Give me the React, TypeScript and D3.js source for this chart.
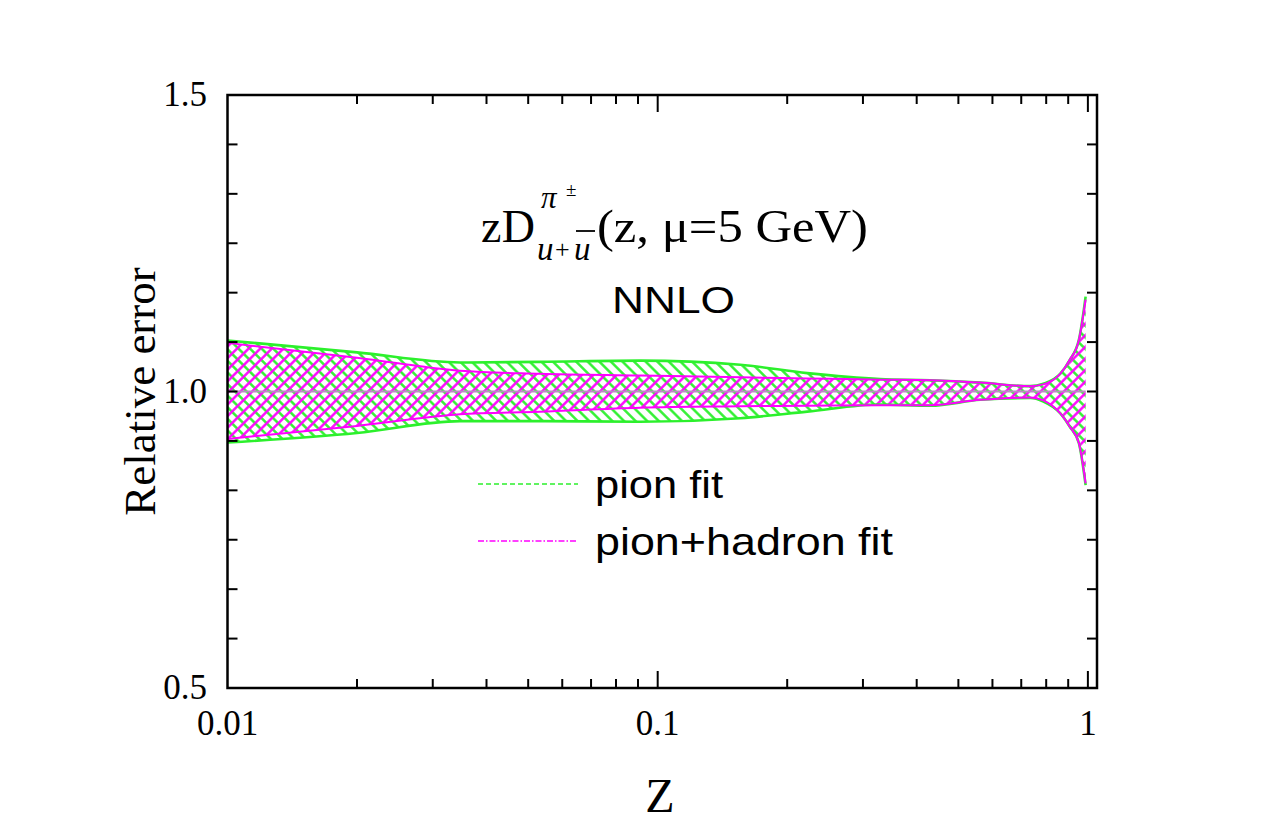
import React, { useEffect, useRef } from 'react';
import * as d3 from 'd3';

const zPoints = [0.01, 0.02, 0.0347, 0.0533, 0.091, 0.1556, 0.2226, 0.329, 0.43, 0.562, 0.735, 0.788, 0.863, 0.907, 0.953, 0.988];

// pion fit (green) relative error band
const pionUpper = [1.086, 1.066, 1.049, 1.05, 1.052, 1.045, 1.031, 1.021, 1.019, 1.015, 1.009, 1.013, 1.03, 1.053, 1.087, 1.16];
const pionLower = [0.914, 0.93, 0.95, 0.95, 0.949, 0.955, 0.966, 0.978, 0.976, 0.986, 0.989, 0.983, 0.963, 0.941, 0.913, 0.842];

// pion+hadron fit (magenta) relative error band
const hadronUpper = [1.082, 1.057, 1.035, 1.03, 1.027, 1.024, 1.022, 1.02, 1.019, 1.015, 1.009, 1.012, 1.03, 1.053, 1.087, 1.155];
const hadronLower = [0.92, 0.942, 0.9615, 0.966, 0.9727, 0.975, 0.976, 0.977, 0.977, 0.986, 0.99, 0.985, 0.963, 0.941, 0.913, 0.845];

const xMajorTicks = [0.01, 0.1, 1];
const xTickLabels = ['0.01', '0.1', '1'];
const yLabelTicks = [0.5, 1.0, 1.5];
const yTickLabels = ['0.5', '1.0', '1.5'];

const legendLabels = ['pion fit', 'pion+hadron fit'];

const GREEN = '#2cf02c';
const MAGENTA = '#ff00ff';
const SERIF = '"Liberation Serif", "Times New Roman", serif';
const SANS = '"Liberation Sans", Arial, sans-serif';

type Pt = { z: number; lo: number; hi: number };

export default function App() {
  const svgRef = useRef<SVGSVGElement>(null);

  useEffect(() => {
    if (!svgRef.current) return;
    const svg = d3.select(svgRef.current);
    svg.selectAll('*').remove();

    const x = d3.scaleLog().domain([0.01, 1.05]).range([227.5, 1097]);
    const y = d3.scaleLinear().domain([0.5, 1.5]).range([688, 95]);
    const [x0, x1] = x.range();
    const [yb, yt] = y.range();

    // hatch patterns
    const defs = svg.append('defs');
    const hatch = (id: string, color: string, angle: number) => {
      const p = defs
        .append('pattern')
        .attr('id', id)
        .attr('patternUnits', 'userSpaceOnUse')
        .attr('width', 8.2)
        .attr('height', 10)
        .attr('patternTransform', `rotate(${angle})`);
      p.append('line')
        .attr('x1', 4.1)
        .attr('x2', 4.1)
        .attr('y1', -1)
        .attr('y2', 11)
        .attr('stroke', color)
        .attr('stroke-width', 2.4);
    };
    hatch('hatchGreen', GREEN, -45);
    hatch('hatchMagenta', MAGENTA, 45);

    const pion: Pt[] = zPoints.map((z, i) => ({ z, lo: pionLower[i], hi: pionUpper[i] }));
    const hadron: Pt[] = zPoints.map((z, i) => ({ z, lo: hadronLower[i], hi: hadronUpper[i] }));

    const area = d3
      .area<Pt>()
      .x(d => x(d.z))
      .y0(d => y(d.lo))
      .y1(d => y(d.hi))
      .curve(d3.curveMonotoneX);
    const upLine = d3.line<Pt>().x(d => x(d.z)).y(d => y(d.hi)).curve(d3.curveMonotoneX);
    const loLine = d3.line<Pt>().x(d => x(d.z)).y(d => y(d.lo)).curve(d3.curveMonotoneX);

    const g = svg.append('g');
    g.append('path').datum(pion).attr('d', area).attr('fill', 'url(#hatchGreen)');
    g.append('path').datum(hadron).attr('d', area).attr('fill', 'url(#hatchMagenta)');

    // central value line (both fits at 1)
    g.append('line')
      .attr('x1', x(zPoints[0]))
      .attr('x2', x(zPoints[zPoints.length - 1]))
      .attr('y1', y(1))
      .attr('y2', y(1))
      .attr('stroke', '#b98cc2')
      .attr('stroke-width', 2);

    [upLine, loLine].forEach(l => {
      g.append('path').datum(pion).attr('d', l).attr('fill', 'none').attr('stroke', GREEN).attr('stroke-width', 2.6);
    });
    [upLine, loLine].forEach(l => {
      g.append('path').datum(hadron).attr('d', l).attr('fill', 'none').attr('stroke', MAGENTA).attr('stroke-width', 2);
    });

    // frame
    svg.append('rect')
      .attr('x', x0)
      .attr('y', yt)
      .attr('width', x1 - x0)
      .attr('height', yb - yt)
      .attr('fill', 'none')
      .attr('stroke', '#000')
      .attr('stroke-width', 2.5);

    // x ticks (log minor + major), bottom and top
    const xMinor: number[] = [];
    [0.01, 0.1].forEach(dec => d3.range(2, 10).forEach(k => xMinor.push(k * dec)));
    const ticks = svg.append('g').attr('stroke', '#000').attr('stroke-width', 2);
    const xt = (v: number, len: number) => {
      ticks.append('line').attr('x1', x(v)).attr('x2', x(v)).attr('y1', yb).attr('y2', yb - len);
      ticks.append('line').attr('x1', x(v)).attr('x2', x(v)).attr('y1', yt).attr('y2', yt + len);
    };
    xMinor.forEach(v => xt(v, 9));
    xMajorTicks.slice(1).forEach(v => xt(v, 17));

    // y ticks every 1/12 of the range
    d3.range(1, 12).map(i => 0.5 + i / 12).forEach(v => {
      ticks.append('line').attr('x1', x0).attr('x2', x0 + 10).attr('y1', y(v)).attr('y2', y(v));
      ticks.append('line').attr('x1', x1).attr('x2', x1 - 10).attr('y1', y(v)).attr('y2', y(v));
    });

    // tick labels
    const lab = svg.append('g').style('font-family', SERIF).style('font-size', '35px').attr('fill', '#000');
    xMajorTicks.forEach((v, i) => {
      lab.append('text').attr('x', x(v)).attr('y', 735).attr('text-anchor', 'middle').text(xTickLabels[i]);
    });
    yLabelTicks.forEach((v, i) => {
      lab.append('text').attr('x', 207).attr('y', y(v) + 11).attr('text-anchor', 'end').text(yTickLabels[i]);
    });

    // axis titles
    svg.append('text')
      .attr('transform', `translate(155,${(yt + yb) / 2}) rotate(-90)`)
      .attr('text-anchor', 'middle')
      .style('font-family', SERIF)
      .style('font-size', '45px')
      .text('Relative error');
    svg.append('text')
      .attr('x', 660)
      .attr('y', 812)
      .attr('text-anchor', 'middle')
      .style('font-family', SERIF)
      .style('font-size', '48px')
      .text('Z');

    // title: zD^{pi±}_{u+ubar}(z, mu=5 GeV)
    const t = svg.append('g').style('font-family', SERIF).attr('fill', '#000');
    t.append('text').attr('x', 481).attr('y', 242).style('font-size', '46px').attr('textLength', 54).text('zD');
    t.append('text').attr('x', 541).attr('y', 208).style('font-size', '31px').style('font-style', 'italic').text('π');
    t.append('text').attr('x', 566).attr('y', 196).style('font-size', '19px').text('±');
    t.append('text').attr('x', 537).attr('y', 260).style('font-size', '33px').style('font-style', 'italic').text('u');
    t.append('text').attr('x', 555).attr('y', 258).style('font-size', '26px').text('+');
    t.append('text').attr('x', 574).attr('y', 260).style('font-size', '33px').style('font-style', 'italic').text('u');
    t.append('line')
      .attr('x1', 576)
      .attr('x2', 595)
      .attr('y1', 231)
      .attr('y2', 231)
      .attr('stroke', '#000')
      .attr('stroke-width', 1.8);
    t.append('text')
      .attr('x', 597)
      .attr('y', 242)
      .style('font-size', '46px')
      .attr('textLength', 271)
      .attr('lengthAdjust', 'spacingAndGlyphs')
      .text('(z, μ=5 GeV)');

    svg.append('text')
      .attr('x', 612)
      .attr('y', 313)
      .style('font-family', SANS)
      .style('font-size', '37px')
      .attr('textLength', 123)
      .attr('lengthAdjust', 'spacingAndGlyphs')
      .text('NNLO');

    // legend
    const leg = svg.append('g');
    const legY = [484, 541];
    const legW = [128, 298];
    const dashes = ['5,3', '6,2,1.5,2'];
    const colors = [GREEN, MAGENTA];
    legendLabels.forEach((name, i) => {
      leg.append('line')
        .attr('x1', 478)
        .attr('x2', 578)
        .attr('y1', legY[i])
        .attr('y2', legY[i])
        .attr('stroke', colors[i])
        .attr('stroke-width', 1.5)
        .attr('stroke-dasharray', dashes[i]);
      leg.append('text')
        .attr('x', 595)
        .attr('y', legY[i] + 14)
        .style('font-family', SANS)
        .style('font-size', '39px')
        .attr('textLength', legW[i])
        .attr('lengthAdjust', 'spacingAndGlyphs')
        .text(name);
    });
  }, []);

  return (
    <svg
      ref={svgRef}
      width={1275}
      height={825}
      style={{ position: 'absolute', left: 0, top: 0, background: '#fff' }}
    />
  );
}
